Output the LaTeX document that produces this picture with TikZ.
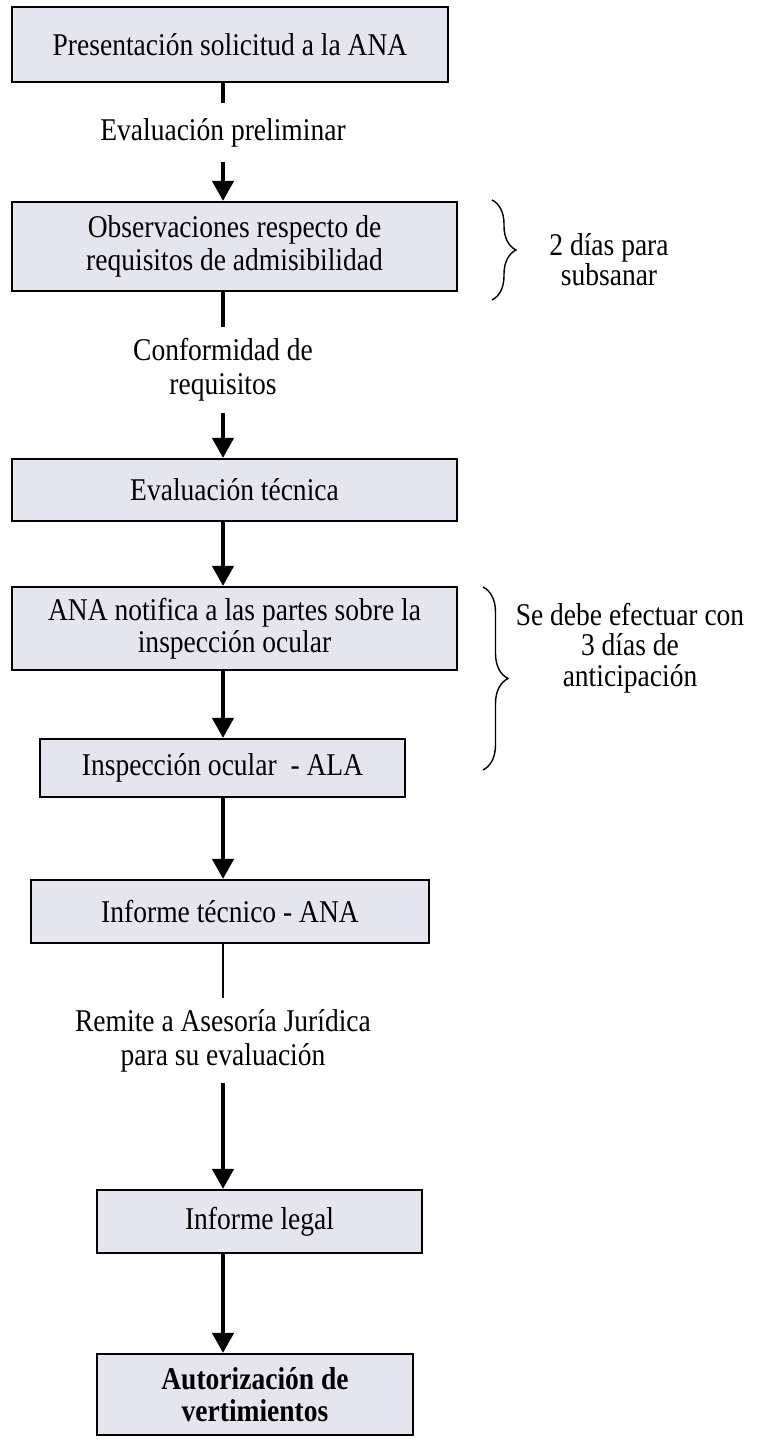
\documentclass[tikz,border=0pt]{standalone}
\usepackage{fontspec}
\setmainfont{Liberation Serif}[FakeStretch=0.87]
\usetikzlibrary{arrows.meta,decorations.pathreplacing}
\definecolor{cajafondo}{RGB}{229,229,240}
\begin{document}
\begin{tikzpicture}\tikzset{paso/.style = {draw, fill=cajafondo, line width=1.6pt, align=center, inner sep=0pt, font=\fontsize{22.5}{23}\selectfont},
	etiq/.style = {align=center, inner sep=0pt, font=\fontsize{22.5}{24}\selectfont},
	nota/.style = {align=center, inner sep=0pt, font=\fontsize{22.5}{21.5}\selectfont},
	flecha/.style = {line width=2.8pt, -{Triangle[length=5mm,width=5.3mm]}},
	llave/.style = {decorate, line width=1pt, decoration={brace, amplitude=0.6cm}}}

		\useasboundingbox (0,0) rectangle (18.9,-35.975);
		\coordinate (eje) at (5.575,0);

		\node[paso, minimum width=10.9cm, minimum height=1.875cm] (B1) at (5.75,-1.1125) {Presentación solicitud a la ANA};
		\node[etiq, minimum height=1.475cm] (L1) at (5.575,-3.3125) {Evaluación preliminar};
		\node[paso, minimum width=11.125cm, minimum height=2.225cm] (B2) at (5.8625,-6.1625) {Observaciones respecto de\\ requisitos de admisibilidad};
		\node[etiq, minimum height=2.15cm] (L2) at (5.575,-9.25) {Conformidad de\\ requisitos};
		\node[paso, minimum width=11.125cm, minimum height=1.55cm] (B3) at (5.8625,-12.25) {Evaluación técnica};
		\node[paso, minimum width=11.125cm, minimum height=2.075cm] (B4) at (5.8625,-15.7125) {ANA notifica a las partes sobre la\\ inspección ocular};
		\node[paso, minimum width=9.125cm, minimum height=1.45cm] (B5) at (5.5625,-19.2) {Inspección ocular~ - ALA};
		\node[paso, minimum width=9.95cm, minimum height=1.575cm] (B6) at (5.75,-22.7875) {Informe técnico - ANA};
		\node[etiq, minimum height=2.125cm] (L3) at (5.575,-26.0125) {Remite a Asesoría Jurídica\\ para su evaluación};
		\node[paso, minimum width=8.125cm, minimum height=1.575cm] (B7) at (6.4875,-30.5375) {Informe legal};
		\node[paso, minimum width=7.9cm, minimum height=2.025cm, font=\fontsize{22.5}{23}\selectfont\bfseries] (B8) at (6.375,-34.8625) {Autorización de\\ vertimientos};

		\node[nota] (T1) at (15.225,-6.5) {2 días para\\ subsanar};
		\node[nota] (T2) at (15.75,-16.2) {Se debe efectuar con\\ 3 días de\\ anticipación};
		\coordinate (K1a) at (12.3,-5.0);
		\coordinate (K1b) at (12.3,-7.5);
		\coordinate (K2a) at (12.075,-14.675);
		\coordinate (K2b) at (12.075,-19.25);

		\draw[line width=2.8pt] (B1.south -| eje) -- (L1.north);
		\draw[flecha] (L1.south) -- (B2.north -| eje);
		\draw[line width=2.8pt] (B2.south -| eje) -- (L2.north);
		\draw[flecha] (L2.south) -- (B3.north -| eje);
		\draw[flecha] (B3.south -| eje) -- (B4.north -| eje);
		\draw[flecha] (B4.south -| eje) -- (B5.north -| eje);
		\draw[flecha] (B5.south -| eje) -- (B6.north -| eje);
		\draw[line width=0.9pt] (B6.south -| eje) -- (L3.north);
		\draw[flecha] (L3.south) -- (B7.north -| eje);
		\draw[flecha] (B7.south -| eje) -- (B8.north -| eje);
		\draw[llave] (K1a) -- (K1b);
		\draw[llave, decoration={amplitude=0.625cm}] (K2a) -- (K2b);
	\end{tikzpicture}
\end{document}
